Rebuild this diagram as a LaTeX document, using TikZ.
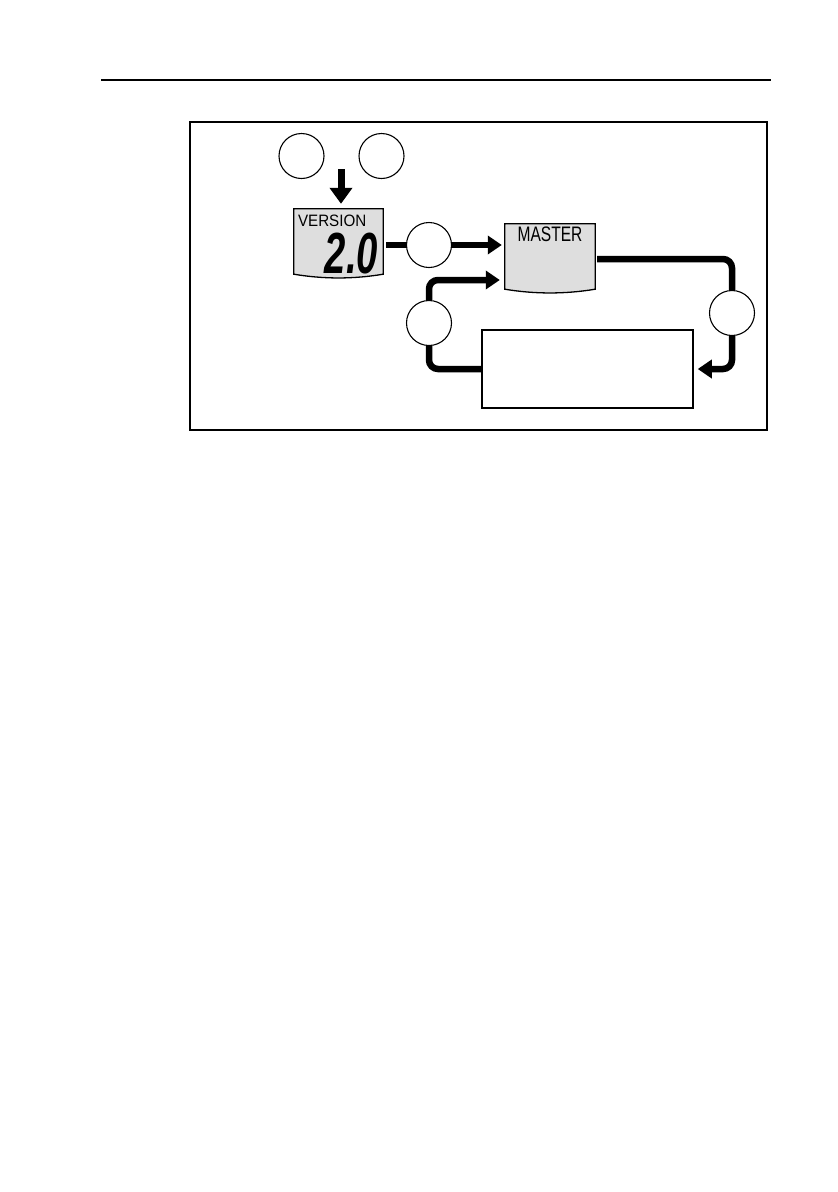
\documentclass[tikz,border=0pt]{standalone}
\usepackage{fontspec}
\setsansfont{Liberation Sans}
\usetikzlibrary{arrows.meta}
\definecolor{lcdgray}{gray}{0.87}
\newcommand\lcdshape[1]{\draw[lcd] (#1.north west) -- (#1.north east) -- ([yshift=5pt]#1.south east) .. controls ([xshift=-30pt,yshift=0pt]#1.south east) and ([xshift=30pt,yshift=0pt]#1.south west) .. ([yshift=5pt]#1.south west) -- cycle;}

\begin{document}
\begin{tikzpicture}[x=1pt,y=-1pt]
	\tikzset{stepcirc/.style={draw,circle,line width=1.1pt,minimum size=45pt,inner sep=0pt}}
	\tikzset{lcd/.style={draw,fill=lcdgray,line width=1.3pt}}
	\tikzset{screen/.style={inner sep=0pt,minimum width=#1}}
	\tikzset{link/.style={line width=6.5pt,rounded corners=9pt}}
	\tikzset{flow/.style={link,-{Triangle[width=18pt,length=14pt]}}}
	\useasboundingbox (0,0) rectangle (838,1192);
	\draw[line width=1.5pt] (101,80) -- (771,80);
	\draw[line width=1.1pt] (190,122) rectangle (767,430);
	% displays
	\node[screen=89pt,minimum height=70pt] (ver) at (338.5,244) {};
	\node[screen=90pt,minimum height=70pt] (mas) at (550,259) {};
	\lcdshape{ver}
	\lcdshape{mas}
	\node[anchor=north west,inner sep=0pt] (vtxt) at ([xshift=4pt,yshift=-6pt]ver.north west)
	    {\sffamily\fontsize{16.5}{18}\selectfont\scalebox{0.92}[1]{VERSION}};
	\node[anchor=south east,inner sep=0pt] (vnum) at ([xshift=-5pt,yshift=5pt]ver.south east)
	    {\sffamily\bfseries\itshape\fontsize{58}{60}\selectfont\scalebox{0.66}[1]{2.0}};
	\node[anchor=north,inner sep=0pt] (mtxt) at ([yshift=-3pt]mas.north)
	    {\sffamily\fontsize{21}{22}\selectfont\scalebox{0.74}[1]{MASTER}};
	\node[draw,line width=1.5pt,minimum width=211pt,minimum height=78pt] (menu) at (587.5,369) {};
	% keys
	\node[stepcirc] (c1) at (301.5,156) {};
	\node[stepcirc] (c2) at (381.5,156) {};
	\node[stepcirc] (c3) at (429,245) {};
	\node[stepcirc] (c4) at (732,313) {};
	\node[stepcirc] (c5) at (429,323) {};
	\coordinate (drop) at (341,169);
	% connectors
	\draw[flow,line width=7pt,-{Triangle[width=22pt,length=16pt]},shorten >=5pt] (drop) -- (drop |- ver.north);
	\draw[link,shorten <=3pt] (ver.east |- c3) -- (c3.west);
	\draw[flow,shorten >=3pt] (c3.east) -- (c3 -| mas.west);
	\draw[link,shorten <=2pt] (mas.east) -| (c4.north);
	\draw[flow,shorten >=4pt] (c4.south) |- (menu.east);
	\draw[link] (menu.west) -| (c5.south);
	\draw[flow,shorten >=5pt] (c5.north) |- ([yshift=-21pt]mas.west);
\end{tikzpicture}
\end{document}
